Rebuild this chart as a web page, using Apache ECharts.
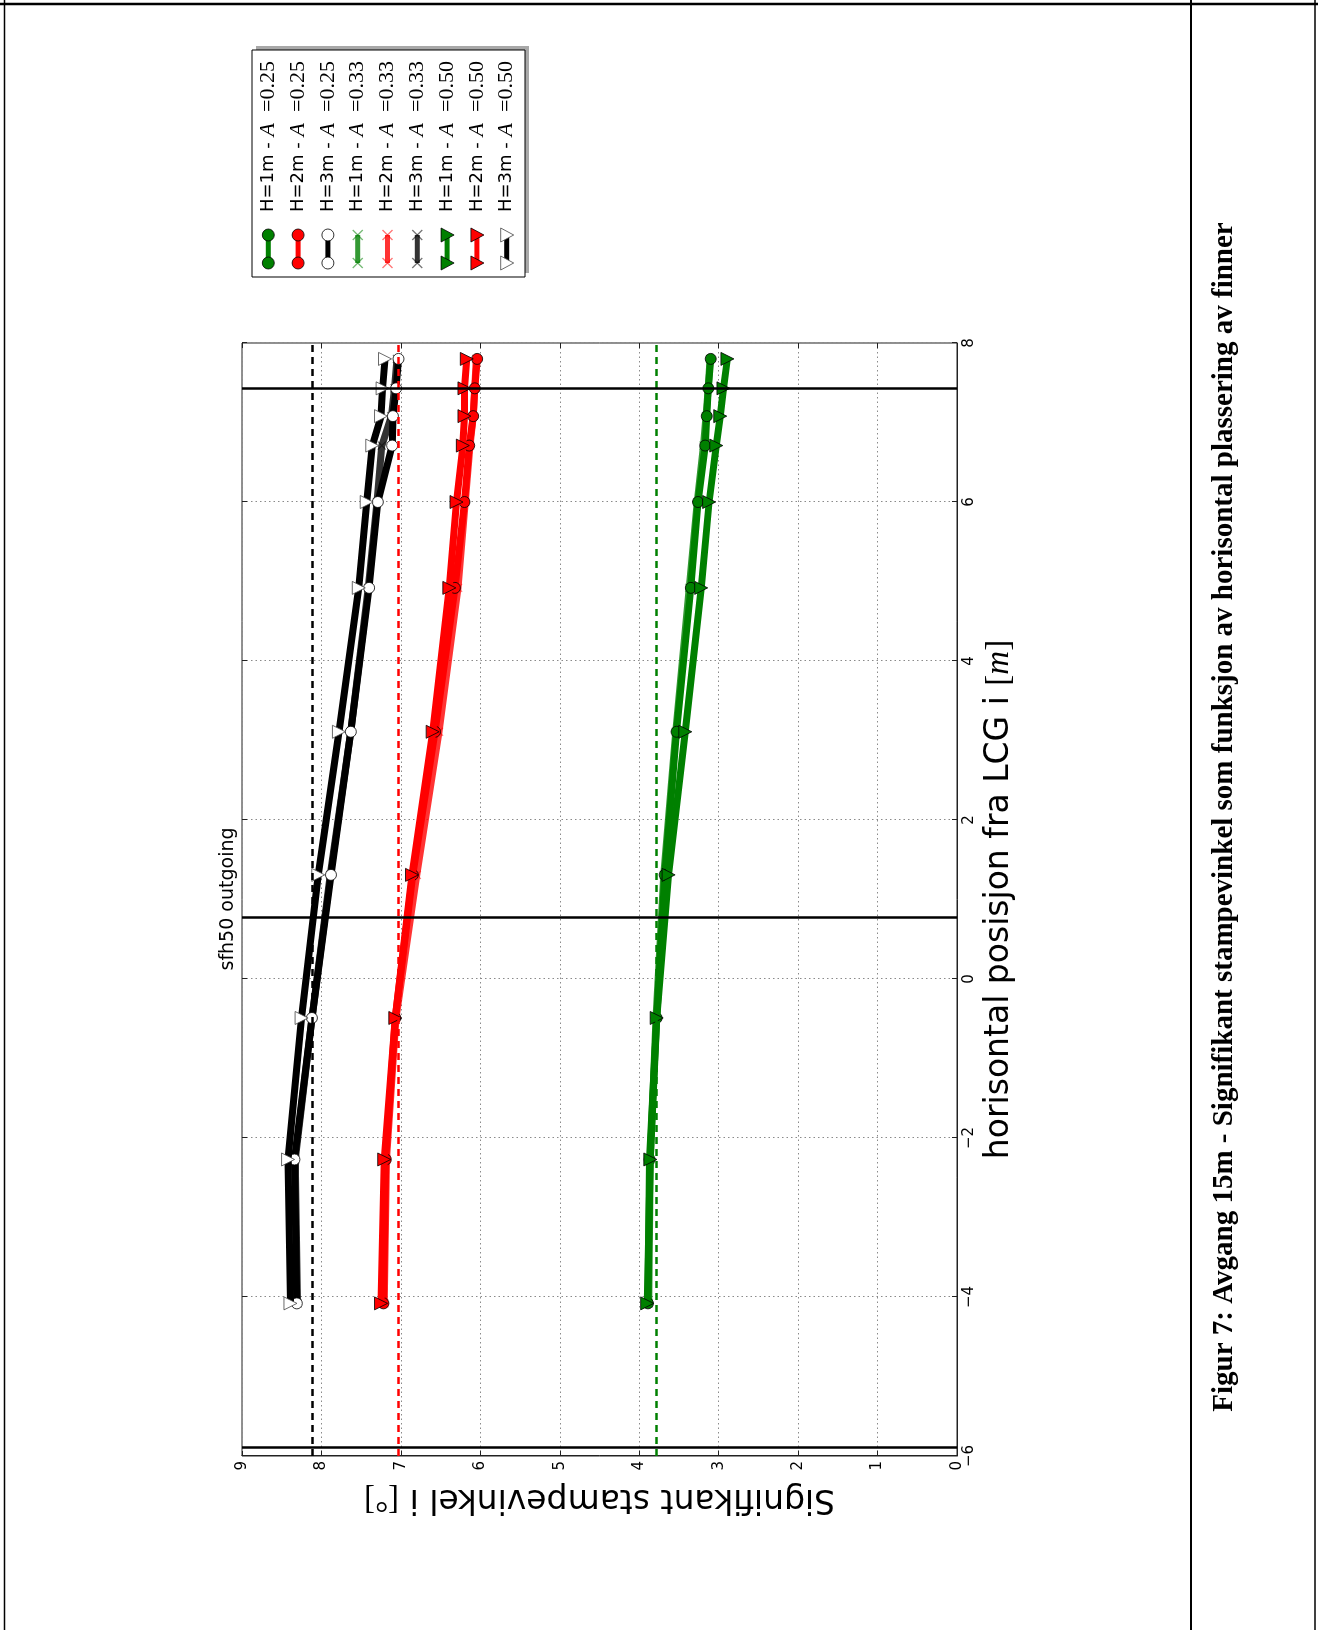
<!DOCTYPE html>
<html>
<head>
<meta charset="utf-8">
<script src="https://cdn.jsdelivr.net/npm/echarts@6/dist/echarts.min.js"></script>
<style>
  html, body { margin: 0; padding: 0; background: #fff; }
  #page { position: relative; width: 1318px; height: 1630px; overflow: hidden; background: #fff; }
  /* the figure is laid out in landscape and turned a quarter turn counter-clockwise onto the page */
  #land { position: absolute; left: 0; top: 0; width: 1630px; height: 1318px;
          transform-origin: 0 0; transform: translateY(1630px) rotate(-90deg); }
</style>
</head>
<body>
<div id="page"><div id="land"></div></div>
<script>
// fin positions along the hull, relative to LCG [m]
const positions = [-4.08, -2.27, -0.49, 1.31, 3.11, 4.92, 6.00, 6.71, 7.08, 7.43, 7.80];

// significant pitch angle [deg], H = wave height, A = fin area factor
const h1a025 = [3.89, 3.87, 3.78, 3.68, 3.53, 3.35, 3.26, 3.17, 3.15, 3.13, 3.10];
const h2a025 = [7.22, 7.19, 7.07, 6.85, 6.57, 6.32, 6.20, 6.14, 6.09, 6.07, 6.04];
const h3a025 = [8.31, 8.34, 8.12, 7.88, 7.63, 7.40, 7.29, 7.11, 7.10, 7.06, 7.03];
const h1a033 = [3.88, 3.86, 3.79, 3.69, 3.54, 3.37, 3.27, 3.19, 3.16, 3.13, 3.11];
const h2a033 = [7.21, 7.18, 7.06, 6.80, 6.52, 6.28, 6.19, 6.13, 6.09, 6.07, 6.05];
const h3a033 = [8.30, 8.33, 8.12, 7.89, 7.63, 7.41, 7.30, 7.24, 7.12, 7.08, 7.05];
const h1a050 = [3.90, 3.86, 3.78, 3.63, 3.42, 3.22, 3.12, 3.03, 2.98, 2.94, 2.89];
const h2a050 = [7.25, 7.21, 7.07, 6.86, 6.60, 6.39, 6.30, 6.22, 6.20, 6.20, 6.17];
const h3a050 = [8.39, 8.42, 8.25, 8.04, 7.78, 7.53, 7.43, 7.36, 7.25, 7.23, 7.20];

// pitch angle without fins, one per wave height (dashed lines)
const bareHullAngles = [3.79, 7.03, 8.11];
// hull limits / reference stations (solid lines)
const stationLines = [-5.89, 0.77, 7.42];

const waveLabels = ['H=1m', 'H=2m', 'H=3m'];
const areaLabels = ['0.25', '0.33', '0.50'];
const angleTicks = [0, 1, 2, 3, 4, 5, 6, 7, 8, 9];
const positionTicks = [-6, -4, -2, 0, 2, 4, 6, 8];

const titleText = 'sfh50 outgoing';
const xName = 'horisontal posisjon fra LCG i ';
const yName = 'Signifikant stampevinkel i ';
const captionText = 'Figur 7: Avgang 15m - Signifikant stampevinkel som funksjon av horisontal plassering av finner';

const colours = ['#008000', '#ff0000', '#000000'];
const seriesValues = [
  [h1a025, h2a025, h3a025],
  [h1a033, h2a033, h3a033],
  [h1a050, h2a050, h3a050]
];

const SANS = 'DejaVu Sans';
const SERIF = 'Liberation Serif';
const X_PATH = 'path://M0,1L1,0L5,4L9,0L10,1L6,5L10,9L9,10L5,6L1,10L0,9L4,5Z';

function fade(hex, a) {
  const n = parseInt(hex.slice(1), 16);
  return 'rgba(' + (n >> 16) + ',' + ((n >> 8) & 255) + ',' + (n & 255) + ',' + a + ')';
}
const minus = v => String(v).replace('-', '\u2212');

const series = [];
// reference lines sit underneath the curves
series.push({
  type: 'line', name: 'ref', data: [], z: 1, silent: true,
  markLine: {
    silent: true, symbol: 'none', animation: false,
    label: { show: false },
    data: bareHullAngles.map((a, i) => ({
      yAxis: a, lineStyle: { color: colours[i], type: [7, 5], width: 2.5 }
    })).concat(stationLines.map(p => ({
      xAxis: p, lineStyle: { color: '#000', type: 'solid', width: 2.5 }
    })))
  }
});

// z order: A=0.33 underneath, then A=0.25, A=0.50 on top
const zByArea = [3, 2, 4];
seriesValues.forEach((group, ai) => {
  group.forEach((vals, hi) => {
    const c = colours[hi];
    const s = {
      type: 'line',
      name: waveLabels[hi] + ' - A=' + areaLabels[ai],
      data: positions.map((p, k) => [p, vals[k]]),
      z: zByArea[ai],
      animation: false,
      lineStyle: { color: c, width: 7 },
      clip: true
    };
    if (ai === 0) {
      s.symbol = 'circle'; s.symbolSize = 11;
      s.itemStyle = { color: hi === 2 ? '#fff' : c, borderColor: '#000', borderWidth: 0.8 };
    } else if (ai === 1) {
      s.symbol = X_PATH; s.symbolSize = 9;
      s.lineStyle.color = fade(c, 0.8);
      s.itemStyle = { color: fade(c, 0.5) };
    } else {
      s.symbol = 'triangle'; s.symbolRotate = 180; s.symbolSize = 13;
      s.itemStyle = { color: hi === 2 ? '#fff' : c, borderColor: hi === 2 ? '#444' : '#000', borderWidth: 0.8 };
    }
    series.push(s);
  });
});

// legend box drawn with graphic elements (line with a marker at each end)
const LEG = { x: 1353, y: 252, w: 227, h: 273, row0: 268.3, step: 29.8, m1: 1367, m2: 1395, tx: 1418 };
const legendEls = [
  { type: 'rect', shape: { x: LEG.x + 4, y: LEG.y + 4, width: LEG.w, height: LEG.h }, style: { fill: '#a8a8a8' } },
  { type: 'rect', shape: { x: LEG.x, y: LEG.y, width: LEG.w, height: LEG.h }, style: { fill: '#fff', stroke: '#000', lineWidth: 1 } }
];
function markerEl(ai, hi, cx, cy) {
  const c = colours[hi];
  if (ai === 0) {
    return { type: 'circle', shape: { cx: cx, cy: cy, r: 6 },
      style: { fill: hi === 2 ? '#fff' : c, stroke: '#000', lineWidth: 0.8 } };
  }
  if (ai === 1) {
    return { type: 'group', children: [
      { type: 'line', shape: { x1: cx - 5, y1: cy - 5, x2: cx + 5, y2: cy + 5 }, style: { stroke: fade(c, 0.55), lineWidth: 1.3 } },
      { type: 'line', shape: { x1: cx - 5, y1: cy + 5, x2: cx + 5, y2: cy - 5 }, style: { stroke: fade(c, 0.55), lineWidth: 1.3 } }
    ] };
  }
  return { type: 'polygon', shape: { points: [[cx - 7, cy - 6], [cx + 7, cy - 6], [cx, cy + 7]] },
    style: { fill: hi === 2 ? '#fff' : c, stroke: hi === 2 ? '#444' : '#000', lineWidth: 0.8 } };
}
let row = 0;
areaLabels.forEach((a, ai) => {
  waveLabels.forEach((h, hi) => {
    const cy = LEG.row0 + LEG.step * row;
    const c = colours[hi];
    legendEls.push({ type: 'line', shape: { x1: LEG.m1, y1: cy, x2: LEG.m2, y2: cy },
      style: { stroke: ai === 1 ? fade(c, 0.8) : c, lineWidth: 5 } });
    legendEls.push(markerEl(ai, hi, LEG.m1, cy));
    legendEls.push(markerEl(ai, hi, LEG.m2, cy));
    legendEls.push({ type: 'text', x: LEG.tx, y: cy,
      style: { text: '{s|' + h + ' - }{i|A}{r|  =' + a + '}', verticalAlign: 'middle', align: 'left',
        rich: {
          s: { fontFamily: SANS, fontSize: 18, fill: '#000' },
          i: { fontFamily: SERIF, fontStyle: 'italic', fontSize: 22, fill: '#000' },
          r: { fontFamily: SERIF, fontSize: 22, fill: '#000' }
        } } });
    row++;
  });
});

// table frame around the figure cell
const frameEls = [
  { type: 'line', shape: { x1: 1626, y1: 0, x2: 1626, y2: 1318 }, style: { stroke: '#000', lineWidth: 2.5 } },
  { type: 'line', shape: { x1: 0, y1: 4.5, x2: 1630, y2: 4.5 }, style: { stroke: '#000', lineWidth: 1.5 } },
  { type: 'line', shape: { x1: 0, y1: 1191, x2: 1630, y2: 1191 }, style: { stroke: '#000', lineWidth: 2 } },
  { type: 'line', shape: { x1: 0, y1: 1315, x2: 1630, y2: 1315 }, style: { stroke: '#000', lineWidth: 1.5 } }
];

const tickFont = { fontFamily: SANS, fontSize: 15, color: '#000' };
const gridLine = { show: true, lineStyle: { color: '#8a8a8a', type: [1.5, 3], width: 1 } };
const tickStyle = { show: true, inside: true, length: 5, lineStyle: { color: '#222' } };

const option = {
  animation: false,
  backgroundColor: '#fff',
  title: [
    { text: titleText, left: 731, top: 219, textAlign: 'center', padding: 0,
      textStyle: { fontFamily: SANS, fontSize: 19, fontWeight: 'normal', color: '#000' } },
    { text: captionText, left: 813, top: 1210, textAlign: 'center', padding: 0,
      textStyle: { fontFamily: SERIF, fontSize: 29, fontWeight: 'bold', color: '#000' } }
  ],
  grid: { left: 174, top: 242, width: 1113, height: 715, show: true, borderColor: '#222', borderWidth: 1, outerBoundsMode: 'none', containLabel: false },
  xAxis: [
    { type: 'value', position: 'bottom', min: positionTicks[0], max: positionTicks[positionTicks.length - 1], interval: 2,
      axisLine: { show: true, onZero: false, lineStyle: { color: '#222', width: 1 } },
      axisTick: tickStyle,
      axisLabel: Object.assign({ margin: 5, formatter: minus }, tickFont),
      splitLine: gridLine,
      name: '{a|' + xName + '}{b|[}{c|m}{b|]}', nameLocation: 'middle', nameGap: 26, nameMoveOverlap: false,
      nameTextStyle: { rich: {
        a: { fontFamily: SANS, fontSize: 33, color: '#000' },
        b: { fontFamily: SERIF, fontSize: 33, color: '#000' },
        c: { fontFamily: SERIF, fontStyle: 'italic', fontSize: 33, color: '#000' } } } },
    { type: 'value', position: 'top', min: -6, max: 8, interval: 2,
      axisLine: { show: false, onZero: false }, axisLabel: { show: false }, splitLine: { show: false },
      axisTick: tickStyle }
  ],
  yAxis: [
    { type: 'value', position: 'left', min: angleTicks[0], max: angleTicks[angleTicks.length - 1], interval: 1,
      axisLine: { show: true, onZero: false, lineStyle: { color: '#222', width: 1 } },
      axisTick: tickStyle,
      axisLabel: Object.assign({ margin: 5 }, tickFont),
      splitLine: gridLine,
      name: '{a|' + yName + '}{b|[°]}', nameLocation: 'middle', nameGap: 26, nameMoveOverlap: false,
      nameTextStyle: { rich: {
        a: { fontFamily: SANS, fontSize: 33, color: '#000' },
        b: { fontFamily: SERIF, fontSize: 33, color: '#000' } } } },
    { type: 'value', position: 'right', min: 0, max: 9, interval: 1,
      axisLine: { show: false, onZero: false }, axisLabel: { show: false }, splitLine: { show: false },
      axisTick: tickStyle }
  ],
  series: series,
  graphic: { elements: frameEls.concat(legendEls) }
};

const chart = echarts.init(document.getElementById('land'), null, { renderer: 'canvas', width: 1630, height: 1318 });
chart.setOption(option);
</script>
</body>
</html>
